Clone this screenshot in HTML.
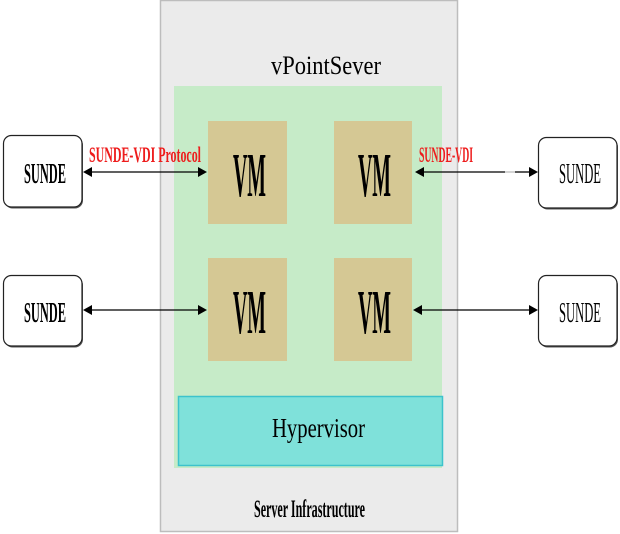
<!DOCTYPE html>
<html>
<head>
<meta charset="utf-8">
<style>
html,body{margin:0;padding:0;background:#fff;}
svg{display:block;}
</style>
</head>
<body>
<svg width="620" height="534" viewBox="0 0 620 534" xmlns="http://www.w3.org/2000/svg">
  <rect x="0" y="0" width="620" height="534" fill="#ffffff"/>
  <!-- outer server box -->
  <rect x="160.5" y="0.5" width="297" height="531" fill="#ebebeb" stroke="#bdbdbd" stroke-width="1.5"/>
  <!-- green area -->
  <rect x="174" y="86" width="268" height="382" fill="#c6ebc8"/>
  <!-- VM boxes -->
  <rect x="208" y="121" width="79" height="103" fill="#d5c894"/>
  <rect x="334" y="121" width="78" height="103" fill="#d5c894"/>
  <rect x="208" y="258" width="79" height="103" fill="#d5c894"/>
  <rect x="334" y="258" width="78" height="103" fill="#d5c894"/>
  <!-- hypervisor -->
  <rect x="178.5" y="396.5" width="264" height="69" fill="#7fe1da" stroke="#3cc3cc" stroke-width="1.5"/>

  <!-- SUNDE box shadows -->
  <g fill="#555">
    <rect x="4.5" y="137" width="78.5" height="71.5" rx="8" ry="8"/>
    <rect x="4.5" y="277" width="78.5" height="70.5" rx="8" ry="8"/>
    <rect x="539.5" y="139" width="78.5" height="70.5" rx="8" ry="8"/>
    <rect x="539.5" y="277" width="78.5" height="70.5" rx="8" ry="8"/>
  </g>
  <!-- SUNDE boxes -->
  <g fill="#ffffff" stroke="#222" stroke-width="1.2">
    <rect x="3.5" y="135.5" width="78.5" height="71.5" rx="8" ry="8"/>
    <rect x="3.5" y="275.5" width="78.5" height="70.5" rx="8" ry="8"/>
    <rect x="538.5" y="137.5" width="78.5" height="70.5" rx="8" ry="8"/>
    <rect x="538.5" y="275.5" width="78.5" height="70.5" rx="8" ry="8"/>
  </g>

  <!-- connectors -->
  <g stroke="#000" stroke-width="1.3">
    <line x1="88" y1="172" x2="201" y2="172"/>
    <line x1="421" y1="172" x2="505" y2="172"/>
    <line x1="515" y1="172" x2="531" y2="172"/>
    <line x1="88" y1="310" x2="201" y2="310"/>
    <line x1="419" y1="310" x2="531" y2="310"/>
  </g>
  <line x1="505" y1="172" x2="515" y2="172" stroke="#aaa" stroke-width="1"/>
  <g fill="#000">
    <polygon points="83,172 92,167 92,177"/>
    <polygon points="207,172 198,167 198,177"/>
    <polygon points="415,172 424,167 424,177"/>
    <polygon points="538,172 529,167 529,177"/>
    <polygon points="83,310 92,305 92,315"/>
    <polygon points="207,310 198,305 198,315"/>
    <polygon points="413,310 422,305 422,315"/>
    <polygon points="538,310 529,305 529,315"/>
  </g>

  <!-- text -->
  <g font-family="'Liberation Serif', serif" fill="#000">
    <text x="271" y="74" font-size="26" textLength="110" lengthAdjust="spacingAndGlyphs">vPointSever</text>
    <text x="233" y="196" font-size="62" font-weight="bold" textLength="33" lengthAdjust="spacingAndGlyphs">VM</text>
    <text x="358" y="196" font-size="62" font-weight="bold" textLength="33" lengthAdjust="spacingAndGlyphs">VM</text>
    <text x="233" y="333" font-size="62" font-weight="bold" textLength="33" lengthAdjust="spacingAndGlyphs">VM</text>
    <text x="358" y="333" font-size="62" font-weight="bold" textLength="33" lengthAdjust="spacingAndGlyphs">VM</text>
    <text x="24" y="183" font-size="29" font-weight="bold" textLength="42" lengthAdjust="spacingAndGlyphs">SUNDE</text>
    <text x="24" y="322" font-size="29" font-weight="bold" textLength="42" lengthAdjust="spacingAndGlyphs">SUNDE</text>
    <text x="559" y="183" font-size="28" textLength="42" lengthAdjust="spacingAndGlyphs">SUNDE</text>
    <text x="559" y="322" font-size="28" textLength="42" lengthAdjust="spacingAndGlyphs">SUNDE</text>
    <text x="272" y="437" font-size="27" textLength="93" lengthAdjust="spacingAndGlyphs">Hypervisor</text>
    <text x="254" y="517" font-size="25" font-weight="bold" textLength="111" lengthAdjust="spacingAndGlyphs">Server Infrastructure</text>
  </g>
  <g font-family="'Liberation Serif', serif" fill="#ee1c1c" font-weight="bold">
    <text x="89" y="162" font-size="22" textLength="112" lengthAdjust="spacingAndGlyphs">SUNDE-VDI Protocol</text>
    <text x="419" y="162" font-size="22" textLength="54" lengthAdjust="spacingAndGlyphs">SUNDE-VDI</text>
  </g>
</svg>
</body>
</html>
